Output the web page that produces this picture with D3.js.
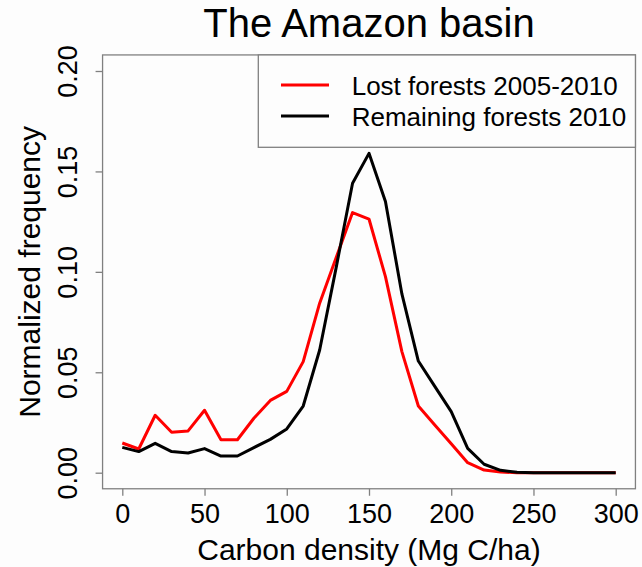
<!DOCTYPE html>
<html>
<head>
<meta charset="utf-8">
<script src="https://cdn.jsdelivr.net/npm/d3@7"></script>
<style>
  body { margin: 0; background: #fdfdfd; }
  text { font-family: "Liberation Sans", Arial, sans-serif; fill: #000; }
</style>
</head>
<body>
<svg width="642" height="567"></svg>
<script>
// carbon density bins (Mg C/ha)
var carbon = [0, 10, 20, 30, 40, 50, 60, 70, 80, 90, 100, 110, 120, 130, 140, 150,
  160, 170, 180, 190, 200, 210, 220, 230, 240, 250, 260, 270, 280, 290, 300];
// lost forests 2005-2010
var lost = [0.0148, 0.0118, 0.0286, 0.0201, 0.0208, 0.0311, 0.0164, 0.0164, 0.0271, 0.0360,
  0.0405, 0.0553, 0.0844, 0.1070, 0.1295, 0.1263, 0.0976, 0.0603, 0.0332, 0.0238,
  0.0144, 0.0050, 0.0013, 0.0003, 0, 0, 0, 0, 0, 0, 0];
// remaining forests 2010
var remaining = [0.0126, 0.0105, 0.0146, 0.0105, 0.0098, 0.0120, 0.0083, 0.0083, 0.0125, 0.0166,
  0.0218, 0.0332, 0.0611, 0.1020, 0.1441, 0.1590, 0.1350, 0.0890, 0.0556, 0.0430,
  0.0304, 0.0121, 0.0042, 0.0012, 0.0002, 0, 0, 0, 0, 0, 0];

var xTicks = [0, 50, 100, 150, 200, 250, 300];
var yTicks = [0, 0.05, 0.10, 0.15, 0.20];
var seriesNames = ["Lost forests 2005-2010", "Remaining forests 2010"];
var seriesColors = ["#ff0000", "#000000"];

var svg = d3.select("svg");

// scales (R style: 4% padding around the data range)
var x = d3.scaleLinear().domain([0, 300]).range([122.3, 615.7]);
var y = d3.scaleLinear().domain([0, 0.2]).range([472.7, 71]);
var boxL = x(-12), boxR = x(312), boxT = y(0.208), boxB = y(-0.008);

// plot box
svg.append("rect")
  .attr("x", boxL).attr("y", boxT)
  .attr("width", boxR - boxL).attr("height", boxB - boxT)
  .attr("fill", "none").attr("stroke", "#808080").attr("stroke-width", 1.3);

// x axis
var xAxis = svg.append("g")
  .attr("transform", "translate(0," + boxB + ")")
  .call(d3.axisBottom(x).tickValues(xTicks).tickSize(7).tickPadding(6)
    .tickFormat(d3.format("d")));
xAxis.select(".domain").remove();
xAxis.selectAll("line").attr("stroke", "#808080").attr("stroke-width", 1.3);
xAxis.selectAll("text").attr("font-size", 27).attr("dy", null).attr("y", 523.3 - boxB)
  .style("font-family", "'Liberation Sans', Arial, sans-serif");

// y axis with rotated labels
var yAxis = svg.append("g")
  .attr("transform", "translate(" + boxL + ",0)")
  .call(d3.axisLeft(y).tickValues(yTicks).tickSize(7).tickFormat(d3.format(".2f")));
yAxis.select(".domain").remove();
yAxis.selectAll("line").attr("stroke", "#808080").attr("stroke-width", 1.3);
yAxis.selectAll("text")
  .attr("font-size", 27)
  .attr("x", null).attr("dy", null)
  .attr("text-anchor", "middle")
  .attr("transform", "translate(" + (76.7 - boxL) + ",0) rotate(-90)")
  .style("font-family", "'Liberation Sans', Arial, sans-serif");

// lines
var line = d3.line()
  .x(function(d, i) { return x(carbon[i]); })
  .y(function(d) { return y(d); });

[lost, remaining].forEach(function(s, k) {
  svg.append("path")
    .datum(s)
    .attr("d", line)
    .attr("fill", "none")
    .attr("stroke", seriesColors[k])
    .attr("stroke-width", 3)
    .attr("stroke-linejoin", "round");
});

// title
svg.append("text")
  .attr("x", (boxL + boxR) / 2).attr("y", 36.7)
  .attr("text-anchor", "middle")
  .attr("font-size", 40)
  .text("The Amazon basin");

// axis titles
svg.append("text")
  .attr("x", (boxL + boxR) / 2).attr("y", 560)
  .attr("text-anchor", "middle")
  .attr("font-size", 30)
  .text("Carbon density (Mg C/ha)");

svg.append("text")
  .attr("transform", "translate(40," + (boxT + boxB) / 2 + ") rotate(-90)")
  .attr("text-anchor", "middle")
  .attr("font-size", 30)
  .text("Normalized frequency");

// legend
svg.append("rect")
  .attr("x", 258.3).attr("y", boxT)
  .attr("width", boxR - 258.3).attr("height", 147.3 - boxT)
  .attr("fill", "#fdfdfd").attr("stroke", "#808080").attr("stroke-width", 1.3);

var legend = svg.selectAll(".legend")
  .data(seriesNames)
  .enter().append("g")
  .attr("class", "legend")
  .attr("transform", function(d, i) { return "translate(0," + (85 + i * 31) + ")"; });

legend.append("line")
  .attr("x1", 281).attr("x2", 329)
  .attr("stroke", function(d, i) { return seriesColors[i]; })
  .attr("stroke-width", 3);

legend.append("text")
  .attr("x", 351.7).attr("y", 10)
  .attr("font-size", 26)
  .text(function(d) { return d; });
</script>
</body>
</html>
